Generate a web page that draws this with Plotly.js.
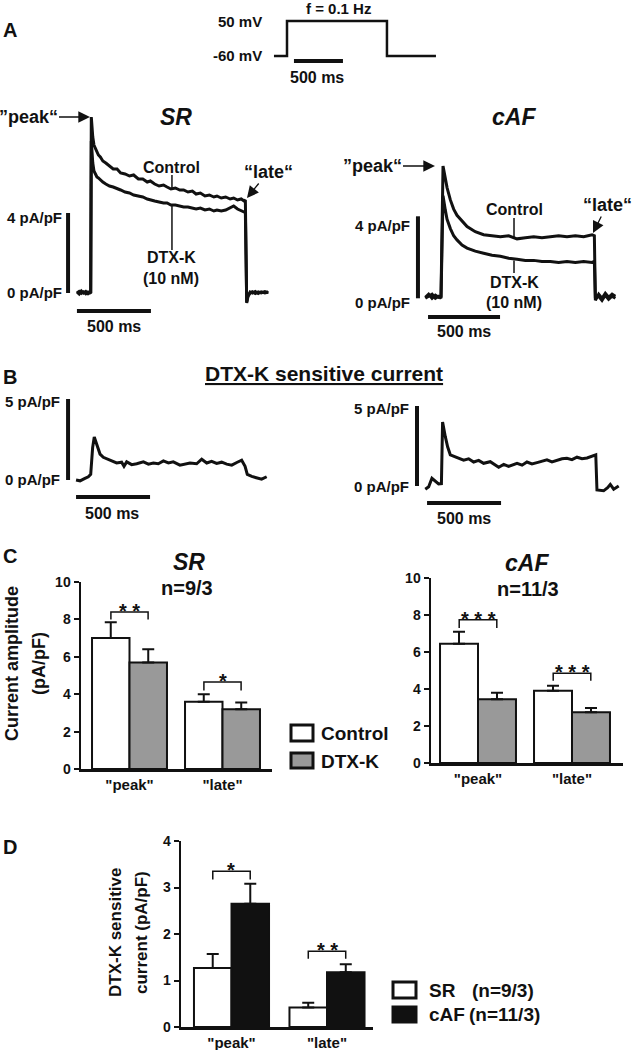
<!DOCTYPE html>
<html>
<head>
<meta charset="utf-8">
<script src="https://cdn.plot.ly/plotly-3.0.1.min.js"></script>
<style>
  body { margin: 0; background: #fff; }
  #fig { width: 637px; height: 1050px; }
</style>
</head>
<body>
<div id="fig"></div>
<script>
// --- voltage protocol (ms, mV)
var protoTime = [-133, 0, 0, 1020, 1020, 1520];
var protoVolt = [-60, -60, 50, 50, -60, -60];

// --- panel A, SR: time (ms) / current (pA/pF)
var srTime = [-95, -80, -65, -50, -35, -20, -8, -2, 2, 6, 12, 20, 30, 40, 50, 63, 80, 100, 125, 150, 176, 200, 230, 260, 288, 320, 350, 380, 401, 430, 460, 490, 514, 540, 570, 600, 626, 655, 685, 710, 739, 770, 800, 830, 851, 880, 910, 940, 964, 990, 1015, 1035, 1043, 1047, 1052, 1060, 1075, 1090, 1110, 1130, 1150, 1175, 1198];
var srControl = [0.05, -0.05, 0.1, 0.0, 0.08, -0.03, 0.05, 0.0, 8.8, 8.2, 7.8, 7.4, 7.2, 7.0, 6.9, 6.8, 6.6, 6.5, 6.35, 6.2, 6.2, 6.0, 5.95, 5.85, 5.9, 5.7, 5.7, 5.55, 5.6, 5.45, 5.35, 5.4, 5.3, 5.2, 5.25, 5.15, 5.15, 5.05, 5.1, 4.95, 5.0, 4.85, 4.9, 4.8, 4.85, 4.75, 4.8, 4.7, 4.75, 4.65, 4.7, 4.6, 4.65, -0.3, -0.5, -0.2, 0.05, 0.0, 0.08, -0.02, 0.06, 0.0, 0.05];
var srDtxk = [0.0, 0.08, -0.02, 0.06, -0.04, 0.05, 0.0, 0.03, 7.6, 7.0, 6.5, 6.1, 5.95, 5.8, 5.75, 5.65, 5.55, 5.45, 5.35, 5.3, 5.2, 5.15, 5.05, 5.0, 4.9, 4.85, 4.8, 4.7, 4.65, 4.6, 4.55, 4.5, 4.5, 4.4, 4.4, 4.35, 4.3, 4.3, 4.25, 4.2, 4.25, 4.15, 4.2, 4.1, 4.15, 4.1, 4.15, 4.25, 4.35, 4.2, 4.1, 4.05, 4.05, -0.3, -0.45, -0.15, 0.0, 0.06, -0.03, 0.05, 0.0, 0.07, 0.02];

// --- panel A, cAF
var afTime = [-109, -86, -62, -39, -16, 0, 14, 30, 42, 65, 88, 111, 146, 181, 238, 296, 354, 412, 470, 528, 586, 644, 701, 759, 817, 875, 933, 991, 1049, 1065, 1072, 1095, 1118, 1141, 1164, 1188, 1211];
var afControl = [0.05, 0.2, 0.0, 0.15, 0.05, 0.1, 6.45, 5.8, 5.4, 4.8, 4.35, 4.05, 3.75, 3.5, 3.25, 3.1, 3.05, 3.0, 3.05, 2.9, 2.95, 3.0, 2.95, 3.0, 3.05, 3.0, 3.05, 3.0, 3.1, 3.05, -0.1, 0.2, 0.0, 0.25, 0.05, 0.2, 0.1];
var afDtxk = [0.0, 0.1, 0.2, 0.0, 0.1, 0.0, 5.0, 4.3, 3.85, 3.4, 3.05, 2.85, 2.6, 2.45, 2.3, 2.2, 2.1, 2.05, 1.95, 1.9, 1.85, 1.85, 1.8, 1.8, 1.75, 1.8, 1.75, 1.8, 1.75, 1.8, 0.0, 0.1, -0.1, 0.15, -0.05, 0.1, 0.0];

// --- panel B, DTX-K sensitive current
var srDiffTime = [-101, -74, -41, -18, -2, 11, 22, 38, 61, 83, 106, 140, 173, 207, 223, 241, 275, 309, 354, 388, 421, 455, 489, 523, 556, 601, 635, 669, 714, 748, 782, 815, 849, 883, 917, 951, 985, 1018, 1041, 1056, 1086, 1120, 1153, 1187];
var srDiff = [0.0, -0.05, 0.1, 0.2, 0.35, 2.0, 2.65, 2.2, 1.6, 1.4, 1.3, 1.15, 1.05, 1.1, 0.85, 1.12, 0.95, 1.0, 1.12, 0.98, 1.05, 1.0, 1.18, 1.05, 1.12, 0.92, 1.0, 1.05, 1.0, 1.28, 1.05, 1.15, 1.02, 1.1, 0.98, 0.92, 1.08, 1.22, 0.85, 0.35, 0.22, 0.15, 0.05, 0.2];
var afDiffTime = [-113, -90, -68, -45, -23, -4, 4, 22, 38, 56, 101, 146, 180, 214, 248, 281, 326, 383, 417, 450, 507, 541, 574, 608, 642, 676, 709, 743, 777, 811, 844, 878, 912, 946, 980, 1014, 1039, 1047, 1092, 1119, 1137, 1160, 1194];
var afDiff = [-0.2, -0.05, 0.48, 0.27, 0.13, 0.15, 4.0, 3.1, 2.45, 1.95, 1.8, 1.62, 1.7, 1.5, 1.6, 1.42, 1.52, 1.17, 1.35, 1.22, 1.42, 1.3, 1.5, 1.38, 1.46, 1.55, 1.63, 1.5, 1.6, 1.7, 1.73, 1.65, 1.8, 1.7, 1.75, 1.85, 1.95, -0.25, -0.3, -0.1, 0.1, -0.2, 0.0];

// --- panel C, D bar data
var categories = ['"peak"', '"late"'];
var catPos = [0, 1];
var cSrControl = [7.0, 3.6],  cSrControlErr = [0.85, 0.4];
var cSrDtxk = [5.7, 3.2],     cSrDtxkErr = [0.7, 0.35];
var cAfControl = [6.45, 3.9], cAfControlErr = [0.65, 0.28];
var cAfDtxk = [3.45, 2.75],   cAfDtxkErr = [0.35, 0.22];
var dSr = [1.27, 0.42],       dSrErr = [0.3, 0.1];
var dAf = [2.65, 1.18],       dAfErr = [0.43, 0.17];

// significance brackets: [category, level, leg, stars]
var cSrSig = [[0, 8.4, 8.0, '* *'], [1, 4.65, 4.2, '*']];
var cAfSig = [[0, 7.75, 7.3, '* * *'], [1, 4.85, 4.45, '* * *']];
var dSig = [[0, 3.35, 3.17, '*'], [1, 1.63, 1.47, '* *']];

var W = 637, H = 1050;
var FONT = 'Liberation Sans, Arial, sans-serif';
var INK = '#111';
function px(x) { return x / W; }
function py(y) { return 1 - y / H; }

// axis from pixel box + scale
function xAx(p0, p1, refPx, refVal, ppu) {
    return { domain: [px(p0), px(p1)], range: [refVal + (p0 - refPx) / ppu, refVal + (p1 - refPx) / ppu], visible: false, fixedrange: true };
}
function yAx(top, bot, refPx, refVal, ppu, anchor) {
    return { domain: [py(bot), py(top)], range: [refVal - (bot - refPx) / ppu, refVal + (refPx - top) / ppu], visible: false, fixedrange: true, anchor: anchor };
}
function barX(p0, p1, centerPx, slotPx, anchor) {
    return {
        domain: [px(p0), px(p1)], range: [(p0 - centerPx) / slotPx, (p1 - centerPx) / slotPx],
        showline: true, linewidth: 2.5, linecolor: INK, ticks: '', tickvals: catPos, ticktext: categories,
        tickfont: { family: FONT, size: 15, weight: 'bold', color: INK }, showgrid: false, zeroline: false,
        anchor: anchor, fixedrange: true
    };
}
function barY(top, bot, maxV, dtick, anchor) {
    var tv = [];
    for (var v = 0; v <= maxV; v += dtick) tv.push(v);
    return {
        domain: [py(bot), py(top)], range: [0, maxV], showline: true, linewidth: 2.5, linecolor: INK,
        ticks: 'outside', ticklen: 5, tickwidth: 2, tickcolor: INK, tickvals: tv,
        tickfont: { family: FONT, size: 14, weight: 'bold', color: INK }, showgrid: false, zeroline: false,
        anchor: anchor, fixedrange: true
    };
}

function line(x, y, xa, ya, w) {
    return { type: 'scatter', mode: 'lines', x: x, y: y, xaxis: xa, yaxis: ya, line: { color: INK, width: w || 3 }, hoverinfo: 'skip' };
}
function bars(y, err, xa, ya, fill, off, w) {
    return {
        type: 'bar', x: catPos, y: y, xaxis: xa, yaxis: ya, offset: off, width: w,
        marker: { color: fill, line: { color: INK, width: 2 } },
        error_y: { type: 'data', symmetric: false, array: err, arrayminus: [0, 0], color: INK, thickness: 2, width: 6 },
        hoverinfo: 'skip'
    };
}

var data = [
    line(protoTime, protoVolt, 'x', 'y', 2.5),
    line(srTime, srControl, 'x2', 'y2'),
    line(srTime, srDtxk, 'x2', 'y2'),
    line(afTime, afControl, 'x3', 'y3'),
    line(afTime, afDtxk, 'x3', 'y3'),
    line(srDiffTime, srDiff, 'x4', 'y4'),
    line(afDiffTime, afDiff, 'x5', 'y5'),
    bars(cSrControl, cSrControlErr, 'x6', 'y6', 'white', -0.403, 0.403),
    bars(cSrDtxk, cSrDtxkErr, 'x6', 'y6', '#999999', 0, 0.403),
    bars(cAfControl, cAfControlErr, 'x7', 'y7', 'white', -0.404, 0.404),
    bars(cAfDtxk, cAfDtxkErr, 'x7', 'y7', '#999999', 0, 0.404),
    bars(dSr, dSrErr, 'x8', 'y8', 'white', -0.393, 0.393),
    bars(dAf, dAfErr, 'x8', 'y8', INK, 0, 0.393)
];

var shapes = [];
var annotations = [];

function seg(xref, yref, x0, y0, x1, y1, w) {
    shapes.push({ type: 'line', xref: xref, yref: yref, x0: x0, y0: y0, x1: x1, y1: y1, line: { color: INK, width: w } });
}
function note(x, y, text, size, opts) {
    var a = { xref: 'paper', yref: 'paper', x: px(x), y: py(y), text: text, showarrow: false,
        xanchor: 'center', yanchor: 'middle', font: { family: FONT, size: size, weight: 'bold', color: INK } };
    for (var k in opts) a[k] = opts[k];
    annotations.push(a);
}
function pointer(x, y, text, size, ax, ay) {
    annotations.push({ xref: 'paper', yref: 'paper', x: px(x), y: py(y), text: text, showarrow: true,
        ax: ax, ay: ay, arrowhead: 2, arrowsize: 1.8, arrowwidth: 1.3, arrowcolor: INK,
        font: { family: FONT, size: size, weight: 'bold', color: INK } });
}
// scale bars in data units of each trace panel
function scaleBars(xa, ya, tV, vLen, t0, yH) {
    seg(xa, ya, tV, 0, tV, vLen, 4);
    seg(xa, ya, t0, yH, t0 + 500, yH, 4);
}
function brackets(sig, xa, ya, half) {
    sig.forEach(function (s) {
        shapes.push({ type: 'path', xref: xa, yref: ya, line: { color: INK, width: 1.5 },
            path: 'M' + (s[0] - half) + ',' + s[2] + ' L' + (s[0] - half) + ',' + s[1] + ' L' + (s[0] + half) + ',' + s[1] + ' L' + (s[0] + half) + ',' + s[2] });
        annotations.push({ xref: xa, yref: ya, x: s[0], y: s[1], text: s[3], showarrow: false, yanchor: 'middle', yshift: 1,
            font: { family: FONT, size: 20, weight: 'bold', color: INK } });
    });
}

// panel letters
note(1, 30, 'A', 20, { xanchor: 'left' });
note(1, 377, 'B', 20, { xanchor: 'left' });
note(1, 556, 'C', 20, { xanchor: 'left' });
note(1, 847, 'D', 20, { xanchor: 'left' });

// protocol
note(338, 8, 'f = 0.1 Hz', 15);
note(264, 22, '50 mV', 15, { xanchor: 'right' });
note(264, 55, '-60 mV', 15, { xanchor: 'right' });
seg('x', 'y', 71, -75.7, 571, -75.7, 4);
note(317, 77, '500 ms', 16);

// panel A
note(176, 117, '<i>SR</i>', 23);
note(514, 117, '<i>cAF</i>', 23);
pointer(90, 117, '”peak“', 18, -62, 0);
pointer(435, 166, '”peak“', 18, -63, 0);
pointer(247, 198, '“late“', 18, 21, -26);
pointer(593, 233, '“late“', 18, 14, -28);
note(171, 167, 'Control', 16);
note(171, 257, 'DTX-K', 16);
note(171, 278, '(10 nM)', 16);
seg('x2', 'y2', 547, 5.2, 547, 5.9, 1.5);
seg('x2', 'y2', 547, 4.35, 547, 2.15, 1.5);
note(514, 210, 'Control', 16);
note(514, 282, 'DTX-K', 16);
note(514, 302, '(10 nM)', 16);
seg('x3', 'y3', 507, 2.9, 507, 3.92, 1.5);
seg('x3', 'y3', 507, 1.85, 507, 1.23, 1.5);
scaleBars('x2', 'y2', -155, 4, -95, -0.9);
scaleBars('x3', 'y3', -160, 4, -90, -0.91);
note(64, 218, '4 pA/pF', 15, { xanchor: 'right' });
note(64, 293, '0 pA/pF', 15, { xanchor: 'right' });
note(412, 225, '4 pA/pF', 15, { xanchor: 'right' });
note(412, 302, '0 pA/pF', 15, { xanchor: 'right' });
note(114, 326, '500 ms', 16);
note(464, 332, '500 ms', 16);

// panel B
note(324, 373, '<u>DTX-K sensitive current</u>', 21);
scaleBars('x4', 'y4', -155, 5, -101, -1.05);
scaleBars('x5', 'y5', -169, 5, -101, -1.06);
note(62, 401, '5 pA/pF', 15, { xanchor: 'right' });
note(62, 480, '0 pA/pF', 15, { xanchor: 'right' });
note(411, 408, '5 pA/pF', 15, { xanchor: 'right' });
note(411, 486, '0 pA/pF', 15, { xanchor: 'right' });
note(112, 513, '500 ms', 16);
note(464, 519, '500 ms', 16);

// panel C
note(189, 562, '<i>SR</i>', 23);
note(187, 588, 'n=9/3', 20);
note(527, 563, '<i>cAF</i>', 23);
note(528, 589, 'n=11/3', 20);
note(12, 664, 'Current amplitude', 18, { textangle: -90 });
note(39, 664, '(pA/pF)', 18, { textangle: -90 });
brackets(cSrSig, 'x6', 'y6', 0.2);
brackets(cAfSig, 'x7', 'y7', 0.2);
shapes.push({ type: 'rect', xref: 'paper', yref: 'paper', x0: px(291), x1: px(313), y0: py(741), y1: py(725), fillcolor: 'white', line: { color: INK, width: 3 } });
shapes.push({ type: 'rect', xref: 'paper', yref: 'paper', x0: px(291), x1: px(313), y0: py(768), y1: py(753), fillcolor: '#999999', line: { color: INK, width: 3 } });
note(319, 733, 'Control', 19, { xanchor: 'left' });
note(319, 761, 'DTX-K', 19, { xanchor: 'left' });

// panel D
note(115, 933, 'DTX-K sensitive', 17, { textangle: -90 });
note(141, 933, 'current (pA/pF)', 17, { textangle: -90 });
brackets(dSig, 'x8', 'y8', 0.196);
shapes.push({ type: 'rect', xref: 'paper', yref: 'paper', x0: px(393), x1: px(416), y0: py(998), y1: py(982), fillcolor: 'white', line: { color: INK, width: 3 } });
shapes.push({ type: 'rect', xref: 'paper', yref: 'paper', x0: px(393), x1: px(416), y0: py(1022), y1: py(1007), fillcolor: INK, line: { color: INK, width: 3 } });
note(427, 990, 'SR', 19, { xanchor: 'left' });
note(470, 990, '(n=9/3)', 19, { xanchor: 'left' });
note(427, 1014, 'cAF', 19, { xanchor: 'left' });
note(467, 1014, '(n=11/3)', 19, { xanchor: 'left' });

var layout = {
    width: W, height: H,
    margin: { l: 0, r: 0, t: 0, b: 0 },
    paper_bgcolor: 'white', plot_bgcolor: 'rgba(0,0,0,0)',
    showlegend: false, barmode: 'overlay', hovermode: false,
    font: { family: FONT, color: INK },
    xaxis: xAx(265, 445, 287, 0, 0.098), yaxis: yAx(10, 70, 56, -60, 0.318, 'x'),
    xaxis2: xAx(55, 280, 91, 0, 0.148), yaxis2: yAx(105, 318, 293, 0, 20, 'x2'),
    xaxis3: xAx(405, 630, 441, 0, 0.144), yaxis3: yAx(150, 325, 298.3, 0, 20.5, 'x3'),
    xaxis4: xAx(55, 280, 91, 0, 0.148), yaxis4: yAx(390, 505, 480, 0, 16.2, 'x4'),
    xaxis5: xAx(405, 630, 442, 0, 0.148), yaxis5: yAx(395, 510, 486, 0, 16, 'x5'),
    xaxis6: barX(81, 272, 129.5, 93, 'y6'), yaxis6: barY(582, 769, 10, 2, 'x6'),
    xaxis7: barX(431, 623, 478, 94, 'y7'), yaxis7: barY(578, 763, 10, 2, 'x7'),
    xaxis8: barX(181, 373, 231.5, 95.5, 'y8'), yaxis8: barY(841, 1027, 4, 1, 'x8'),
    shapes: shapes,
    annotations: annotations
};
layout.xaxis.anchor = 'y'; layout.xaxis2.anchor = 'y2'; layout.xaxis3.anchor = 'y3';
layout.xaxis4.anchor = 'y4'; layout.xaxis5.anchor = 'y5';

Plotly.newPlot('fig', data, layout, { staticPlot: true, displayModeBar: false });
</script>
</body>
</html>
